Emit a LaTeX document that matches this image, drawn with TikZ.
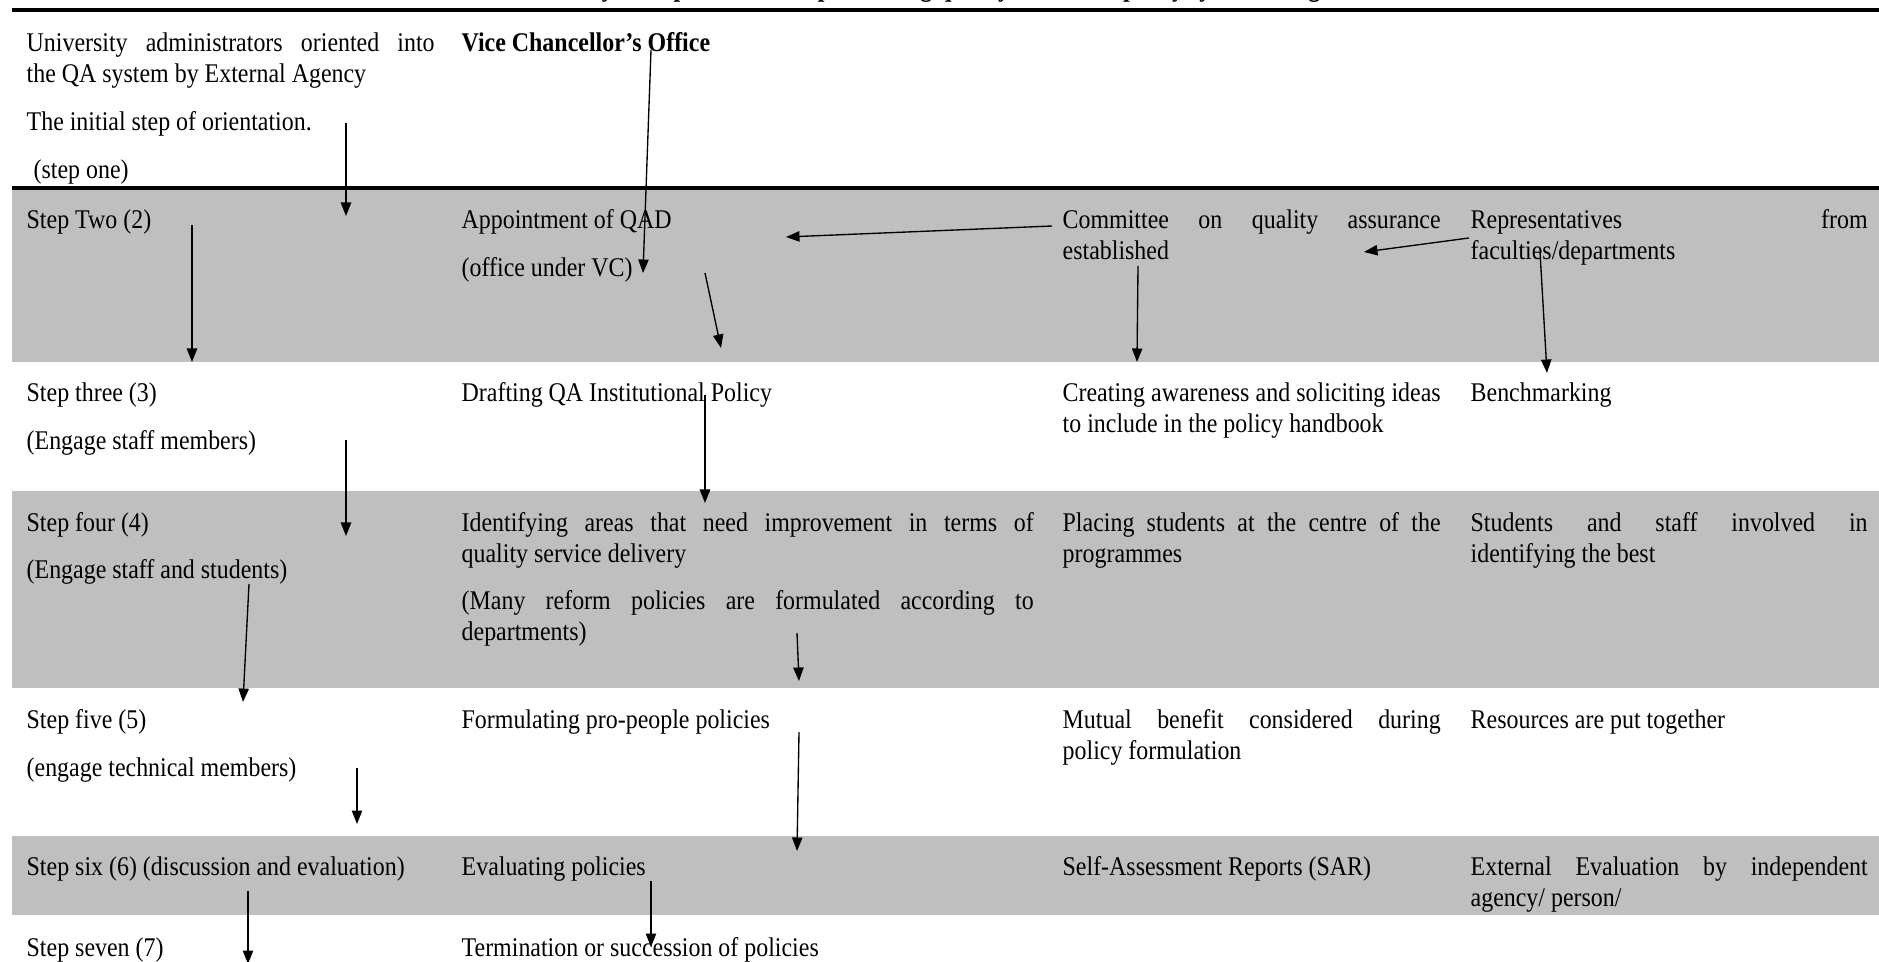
\documentclass[tikz,border=0pt]{standalone}
\usepackage{fontspec}
\setmainfont[FakeStretch=0.886]{Liberation Serif}
\usetikzlibrary{arrows.meta}
\definecolor{bandgray}{RGB}{191,191,191}
\newdimen\pxu \pxu=0.4444pt
\hyphenpenalty=10000

\begin{document}
\begin{tikzpicture}[x=0.4444pt, y=-0.4444pt, line width=0.6pt,
                    cell/.style = {anchor=base west, inner sep=0pt, align=justify, yshift=-1.1pt,
                                   font=\fontsize{12}{13.8}\selectfont},
                    colA/.style = {cell, text width=408\pxu},
                    colB/.style = {cell, text width=572\pxu},
                    colC/.style = {cell, text width=378\pxu},
                    colD/.style = {cell, text width=397\pxu},
                    band/.style = {fill = bandgray},
                    rule/.style = {line width = 1.5pt},
                    flow/.style = {-{Triangle[length=6pt, width=4.6pt]}}]
      \useasboundingbox (0, 0) rectangle (1879, 962);

      \fill [band] (12, 188) rectangle (1879, 362);
      \fill [band] (12, 491) rectangle (1879, 688);
      \fill [band] (12, 836) rectangle (1879, 915);
      \draw [rule] (12, 10) -- (1879, 10);
      \draw [rule] (12, 188) -- (1879, 188);

      \node [anchor=base, inner sep=0pt, font=\fontsize{12}{13.8}\selectfont\bfseries] (title) at (958, -3)
            {Table 3.1: Summary of steps taken in implementing quality assurance policy system in Ugandan Universities};

      \node [colA] (uni) at (26, 49) {University administrators oriented into\linebreak the QA system by External Agency};
      \node [colA] (initial) at (26, 128) {The initial step of orientation.};
      \node [colA] (stepone) at (33, 176) {(step one)};
      \node [colB, font=\fontsize{12}{13.8}\selectfont\bfseries] (vc) at (461, 49) {Vice Chancellor's Office};

      \node [colA] (steptwo) at (26, 226) {Step Two (2)};
      \node [colB] (qad) at (461, 226) {Appointment of QAD};
      \node [colB] (officevc) at (461, 274) {(office under VC)};
      \node [colC] (committee) at (1062, 226) {Committee on quality assurance\linebreak established};
      \node [colD] (reps) at (1470, 226) {Representatives from\linebreak faculties/departments};

      \node [colA] (stepthree) at (26, 399) {Step three (3)};
      \node [colA] (staffm) at (26, 447) {(Engage staff members)};
      \node [colB] (drafting) at (461, 399) {Drafting QA Institutional Policy};
      \node [colC] (awareness) at (1062, 399) {Creating awareness and soliciting ideas\linebreak to include in the policy handbook};
      \node [colD] (bench) at (1470, 399) {Benchmarking};

      \node [colA] (stepfour) at (26, 529) {Step four (4)};
      \node [colA] (staffstud) at (26, 576) {(Engage staff and students)};
      \node [colB] (identify) at (461, 529) {Identifying areas that need improvement in terms of\linebreak quality service delivery};
      \node [colB] (reform) at (461, 607) {(Many reform policies are formulated according to\linebreak departments)};
      \node [colC] (placing) at (1062, 529) {Placing students at the centre of the\linebreak programmes};
      \node [colD] (involved) at (1470, 529) {Students and staff involved in\linebreak identifying the best};

      \node [colA] (stepfive) at (26, 726) {Step five (5)};
      \node [colA] (technical) at (26, 774) {(engage technical members)};
      \node [colB] (formulating) at (461, 726) {Formulating pro-people policies};
      \node [colC] (mutual) at (1062, 726) {Mutual benefit considered during\linebreak policy formulation};
      \node [colD] (resources) at (1470, 726) {Resources are put together};

      \node [colA] (stepsix) at (26, 873) {Step six (6) (discussion and evaluation)};
      \node [colB] (evaluating) at (461, 873) {Evaluating policies};
      \node [colC] (sar) at (1062, 873) {Self-Assessment Reports (SAR)};
      \node [colD] (external) at (1470, 873) {External Evaluation by independent\linebreak agency/ person/};

      \node [colA] (stepseven) at (26, 954) {Step seven (7)};
      \node [colB] (termination) at (461, 954) {Termination or succession of policies};

      \coordinate (p1) at (346, 123);   \coordinate (q1) at (346, 216);
      \coordinate (p2) at (651, 50);    \coordinate (q2) at (643, 273);
      \coordinate (p3) at (192, 225);   \coordinate (q3) at (192, 362);
      \coordinate (p4) at (1052, 226);  \coordinate (q4) at (786, 237);
      \coordinate (p5) at (1469, 238);  \coordinate (q5) at (1364, 252);
      \coordinate (p6) at (705, 273);   \coordinate (q6) at (721, 348);
      \coordinate (p7) at (1138, 266);  \coordinate (q7) at (1137, 362);
      \coordinate (p8) at (1540, 252);  \coordinate (q8) at (1547, 373);
      \coordinate (p9) at (346, 440);   \coordinate (q9) at (346, 536);
      \coordinate (p10) at (705, 395);  \coordinate (q10) at (705, 503);
      \coordinate (p11) at (249, 584);  \coordinate (q11) at (243, 702);
      \coordinate (p12) at (797, 633);  \coordinate (q12) at (799, 681);
      \coordinate (p13) at (357, 768);  \coordinate (q13) at (357, 824);
      \coordinate (p14) at (799, 732);  \coordinate (q14) at (797, 851);
      \coordinate (p15) at (248, 891);  \coordinate (q15) at (248, 964);
      \coordinate (p16) at (651, 881);  \coordinate (q16) at (651, 947);

      \foreach \i in {1,...,16}
        \draw [flow] (p\i) -- (q\i);
      \end{tikzpicture}
\end{document}
